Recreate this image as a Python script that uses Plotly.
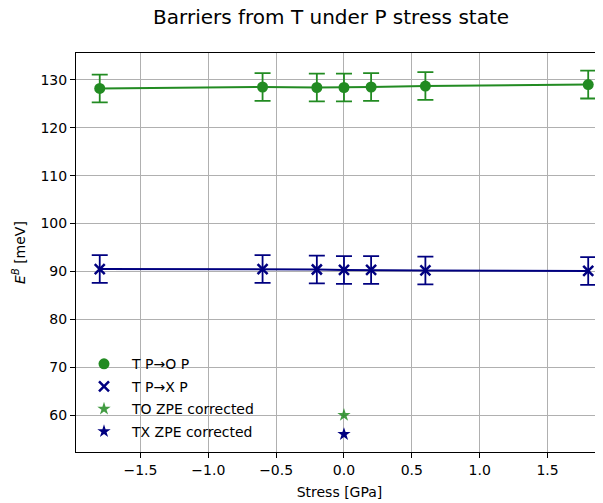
import plotly.graph_objects as go

# ---- data ----
stress = [-1.8, -0.6, -0.2, 0.0, 0.2, 0.6, 1.8]
barrier_TO = [128.2, 128.5, 128.4, 128.4, 128.5, 128.7, 129.0]
err_TO = [2.9, 2.9, 2.9, 2.9, 2.9, 2.9, 2.9]
barrier_TX = [90.5, 90.5, 90.4, 90.3, 90.3, 90.2, 90.1]
err_TX = [2.9, 2.9, 2.9, 2.9, 2.9, 2.9, 2.9]
zpe_stress = [0.0]
zpe_TO = [60.0]
zpe_TX = [56.0]

x_tickvals = [-1.5, -1.0, -0.5, 0.0, 0.5, 1.0, 1.5]
x_ticktext = ["\u22121.5", "\u22121.0", "\u22120.5", "0.0", "0.5", "1.0", "1.5"]
y_tickvals = [60, 70, 80, 90, 100, 110, 120, 130]

GREEN = "#228B22"
NAVY = "#000080"
FONT = "DejaVu Sans"

fig = go.Figure()

# lines (no legend)
fig.add_trace(go.Scatter(x=stress, y=barrier_TO, mode="lines",
                         line=dict(color=GREEN, width=2), showlegend=False,
                         hoverinfo="skip"))
fig.add_trace(go.Scatter(x=stress, y=barrier_TX, mode="lines",
                         line=dict(color=NAVY, width=2), showlegend=False,
                         hoverinfo="skip"))

# markers with error bars
fig.add_trace(go.Scatter(x=stress, y=barrier_TO, mode="markers", name="T P\u2192O P",
                         legendgroup="a",
                         marker=dict(symbol="circle", size=11, color=GREEN),
                         error_y=dict(type="data", array=err_TO, visible=True,
                                      color=GREEN, thickness=1.8, width=8)))
fig.add_trace(go.Scatter(x=stress, y=barrier_TX, mode="markers", name="T P\u2192X P",
                         legendgroup="b",
                         marker=dict(symbol="x-thin", size=10, color=NAVY,
                                     line=dict(color=NAVY, width=2.5)),
                         error_y=dict(type="data", array=err_TX, visible=True,
                                      color=NAVY, thickness=1.8, width=8)))

# ZPE corrected stars
fig.add_trace(go.Scatter(x=zpe_stress, y=zpe_TO, mode="markers", name="TO ZPE corrected",
                         legendgroup="c",
                         marker=dict(symbol="star", size=10, color=GREEN, opacity=0.85)))
fig.add_trace(go.Scatter(x=zpe_stress, y=zpe_TX, mode="markers", name="TX ZPE corrected",
                         legendgroup="d",
                         marker=dict(symbol="star", size=10, color=NAVY)))

# page body has an 8px margin: compensate so the plot sits where the reference has it
fig.update_layout(
    width=595, height=495,
    margin=dict(l=68, r=0, t=45, b=51),
    paper_bgcolor="white", plot_bgcolor="white",
    font=dict(family=FONT, size=14, color="black"),
    title=dict(text="Barriers from T under P stress state", x=0.543, xanchor="center",
               y=0.995, yanchor="top", pad=dict(t=0, b=0),
               font=dict(size=20, family=FONT, color="black")),
    legend=dict(x=0.0, y=0.26, xanchor="left", yanchor="top",
                bgcolor="rgba(255,255,255,0)", borderwidth=0, itemwidth=46,
                tracegroupgap=1.3, font=dict(size=14, family=FONT)),
    showlegend=True,
)

fig.update_xaxes(range=[-1.975, 1.909], tickvals=x_tickvals, ticktext=x_ticktext,
                 showgrid=True, gridcolor="#b0b0b0", gridwidth=1,
                 showline=True, linecolor="black", linewidth=1, mirror=True,
                 ticks="outside", ticklen=5, tickcolor="black", zeroline=False,
                 title=dict(text="Stress [GPa]", font=dict(size=14), standoff=10))
fig.update_yaxes(range=[52.3, 135.6], tickvals=y_tickvals,
                 showgrid=True, gridcolor="#b0b0b0", gridwidth=1,
                 showline=True, linecolor="black", linewidth=1, mirror=False,
                 ticks="outside", ticklen=5, tickcolor="black", zeroline=False,
                 title=dict(text="<i>E</i><sup><i>B</i></sup> [meV]", font=dict(size=14),
                            standoff=11))

fig.write_html("out.html")
